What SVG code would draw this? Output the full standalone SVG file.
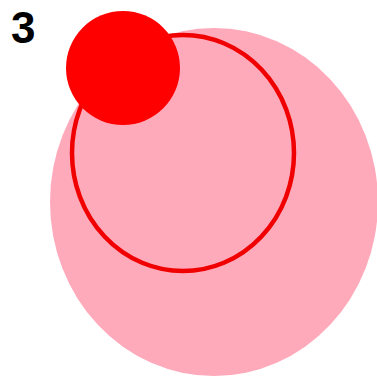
<svg xmlns="http://www.w3.org/2000/svg" width="377" height="379" viewBox="0 0 377 379">
<style>
.lbl{font-family:"Liberation Sans",Arial,sans-serif;font-weight:bold;font-size:44px;fill:#000}
</style>
<rect width="377" height="379" fill="#fff"/>
<g id="big"><ellipse cx="214" cy="202" rx="164" ry="174" fill="#FFAABB"/></g>
<g id="ring"><ellipse cx="183" cy="153" rx="111" ry="118" fill="none" stroke="#F00000" stroke-width="4.5"/></g>
<g id="dot"><circle cx="123" cy="68" r="57" fill="#FF0000"/></g>
<g id="label"><text class="lbl" x="11" y="43">3</text></g>
</svg>
